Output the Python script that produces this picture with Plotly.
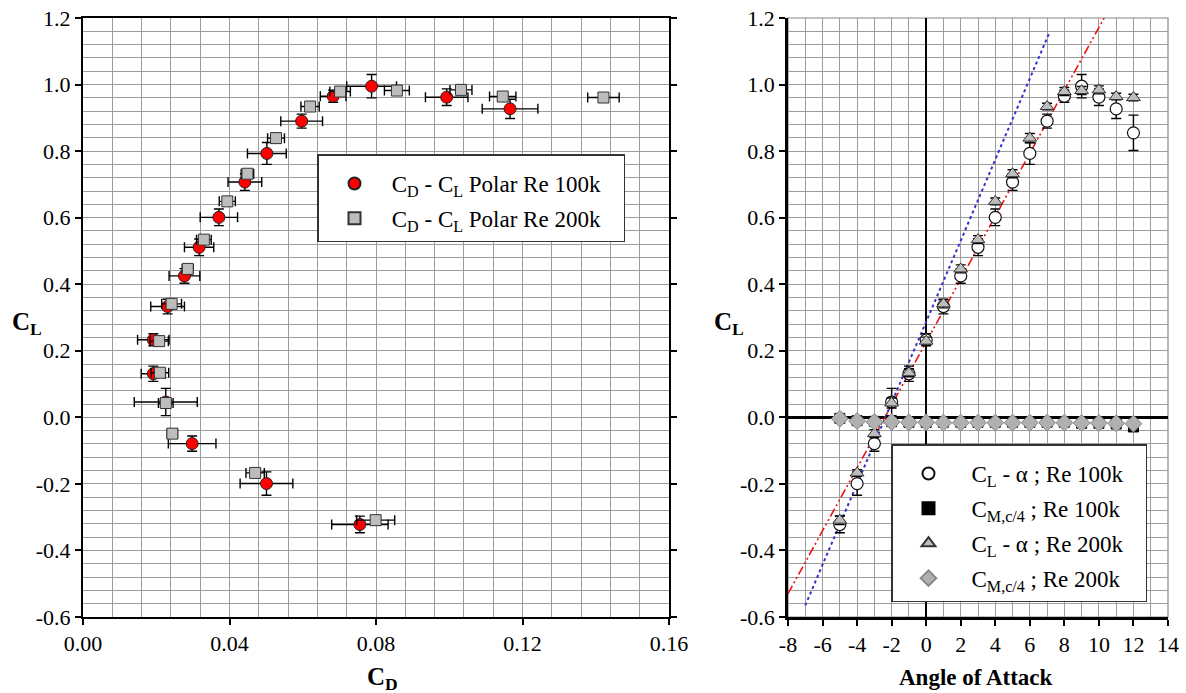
import plotly.graph_objects as go

# ---------------- data ----------------
alpha = [-5, -4, -3, -2, -1, 0, 1, 2, 3, 4, 5, 6, 7, 8, 9, 10, 11, 12]

cl_100 = [-0.322, -0.199, -0.079, 0.046, 0.131, 0.233, 0.333, 0.425, 0.511, 0.601,
          0.707, 0.793, 0.890, 0.965, 0.995, 0.962, 0.927, 0.855]
cl_100_err = [0.025, 0.035, 0.023, 0.041, 0.023, 0.018, 0.022, 0.022, 0.025, 0.025,
              0.025, 0.033, 0.021, 0.018, 0.035, 0.025, 0.029, 0.053]
# drag polar Re 100k (alpha -5 .. 11)
cd_100 = [0.0756, 0.0501, 0.0298, 0.0226, 0.0192, 0.0192, 0.0231, 0.0277, 0.0317, 0.0371,
          0.0442, 0.0502, 0.0597, 0.0683, 0.0788, 0.0993, 0.1166]
cd_100_err = [0.0077, 0.0072, 0.0065, 0.0086, 0.0033, 0.0043, 0.0046, 0.0042, 0.0040, 0.0051,
              0.0046, 0.0053, 0.0057, 0.0035, 0.0068, 0.0058, 0.0076]

cl_200 = [-0.309, -0.167, -0.049, 0.043, 0.134, 0.229, 0.341, 0.446, 0.534, 0.649,
          0.732, 0.839, 0.934, 0.979, 0.982, 0.984, 0.964, 0.961]
cl_200_err = [0.013, 0.010, 0.012, 0.015, 0.012, 0.012, 0.012, 0.012, 0.012, 0.010,
              0.012, 0.014, 0.010, 0.012, 0.012, 0.012, 0.010, 0.010]
cd_200 = [0.0799, 0.0470, 0.0244, 0.0226, 0.0210, 0.0208, 0.0242, 0.0286, 0.0330, 0.0394,
          0.0449, 0.0527, 0.0620, 0.0702, 0.0857, 0.1032, 0.1146, 0.1421]
cd_200_err = [0.0052, 0.0025, 0.0014, 0.0020, 0.0024, 0.0025, 0.0027, 0.0015, 0.0020, 0.0022,
              0.0017, 0.0023, 0.0025, 0.0028, 0.0034, 0.0030, 0.0036, 0.0043]

cm_100 = [-0.003, -0.010, -0.012, -0.013, -0.015, -0.015, -0.015, -0.015, -0.015, -0.015,
          -0.015, -0.015, -0.015, -0.015, -0.018, -0.018, -0.020, -0.029]
cm_200 = [-0.004, -0.011, -0.014, -0.014, -0.015, -0.015, -0.016, -0.016, -0.016, -0.016,
          -0.016, -0.016, -0.016, -0.016, -0.017, -0.017, -0.018, -0.019]

# linear fit lines (endpoints)
fit_red_alpha = [-8.0, 10.3]
fit_red_cl = [-0.53, 1.20]
fit_blue_alpha = [-7.0, 7.1]
fit_blue_cl = [-0.565, 1.152]

# tick labels
cd_ticks = [0.0, 0.04, 0.08, 0.12, 0.16]
cd_ticktext = ["0.00", "0.04", "0.08", "0.12", "0.16"]
cl_ticks = [-0.6, -0.4, -0.2, 0.0, 0.2, 0.4, 0.6, 0.8, 1.0, 1.2]
cl_ticktext = ["-0.6", "-0.4", "-0.2", "0.0", "0.2", "0.4", "0.6", "0.8", "1.0", "1.2"]
aoa_ticks = [-8, -6, -4, -2, 0, 2, 4, 6, 8, 10, 12, 14]
aoa_ticktext = ["-8", "-6", "-4", "-2", "0", "2", "4", "6", "8", "10", "12", "14"]

FONT = "Liberation Serif"
GRID = "#9d9d9d"
NB = "\u00a0"

fig = go.Figure()

def err(arr):
    return dict(type="data", array=arr, color="black", thickness=1.4, width=5)

# ---------------- left: drag polar ----------------
fig.add_trace(go.Scatter(
    x=cd_100, y=cl_100[:len(cd_100)], mode="markers",
    name=NB * 3 + "C<sub>D</sub> - C<sub>L</sub> Polar Re 100k" + NB * 3,
    legendgroup="p1",
    marker=dict(symbol="circle", size=12, color="#ff0000", line=dict(color="#222", width=1)),
    error_x=err(cd_100_err), error_y=err(cl_100_err[:len(cd_100)]),
    xaxis="x", yaxis="y", legend="legend"))
fig.add_trace(go.Scatter(
    x=cd_200, y=cl_200, mode="markers",
    name=NB * 3 + "C<sub>D</sub> - C<sub>L</sub> Polar Re 200k" + NB * 3,
    legendgroup="p2",
    marker=dict(symbol="square", size=11, color="#bdbdbd", line=dict(color="#333", width=1)),
    error_x=err(cd_200_err), error_y=err(cl_200_err),
    xaxis="x", yaxis="y", legend="legend"))

# ---------------- right: lift curve ----------------
fig.add_trace(go.Scatter(
    x=fit_red_alpha, y=fit_red_cl, mode="lines", showlegend=False, hoverinfo="skip",
    line=dict(color="#ee1111", width=1.6, dash="9px,3px,2px,3px,2px,3px"),
    xaxis="x2", yaxis="y2"))
fig.add_trace(go.Scatter(
    x=fit_blue_alpha, y=fit_blue_cl, mode="lines", showlegend=False, hoverinfo="skip",
    line=dict(color="#3333cc", width=2, dash="dot"),
    xaxis="x2", yaxis="y2"))

fig.add_trace(go.Scatter(
    x=alpha, y=cl_100, mode="markers",
    name=NB * 4 + "C<sub>L</sub> - α ; Re 100k" + NB * 3, legendgroup="a",
    marker=dict(symbol="circle", size=12, color="white", line=dict(color="#111", width=1.2)),
    error_y=err(cl_100_err),
    xaxis="x2", yaxis="y2", legend="legend2"))
fig.add_trace(go.Scatter(
    x=alpha, y=cm_100, mode="markers",
    name=NB * 4 + "C<sub>M,c/4</sub> ; Re 100k" + NB * 3, legendgroup="b",
    marker=dict(symbol="square", size=10, color="black", line=dict(color="black", width=1)),
    xaxis="x2", yaxis="y2", legend="legend2"))
fig.add_trace(go.Scatter(
    x=alpha, y=cl_200, mode="markers",
    name=NB * 4 + "C<sub>L</sub> - α ; Re 200k" + NB * 3, legendgroup="c",
    marker=dict(symbol="triangle-up", size=12, color="#bdbdbd", line=dict(color="#333", width=1)),
    error_y=err(cl_200_err),
    xaxis="x2", yaxis="y2", legend="legend2"))
fig.add_trace(go.Scatter(
    x=alpha, y=cm_200, mode="markers",
    name=NB * 4 + "C<sub>M,c/4</sub> ; Re 200k" + NB * 3, legendgroup="d",
    marker=dict(symbol="diamond", size=13, color="#b0b0b0", line=dict(color="#888", width=1)),
    xaxis="x2", yaxis="y2", legend="legend2"))

W, H = 1186, 693
ydom = [1 - 617 / H, 1 - 18 / H]
x1dom = [83 / W, 669 / W]
x2dom = [788 / W, 1168 / W]

TICKFONT = dict(family=FONT, size=22, color="black")


def axis(domain, rng, tickvals, ticktext, minor_step, anchor, lw, **extra):
    d = dict(domain=domain, range=rng, tickmode="array", tickvals=tickvals, ticktext=ticktext,
             tickfont=dict(TICKFONT), showgrid=True, gridcolor=GRID, gridwidth=1.2,
             ticks="outside", ticklen=6, tickcolor="black", tickwidth=1.5,
             showline=True, linecolor="black", linewidth=lw,
             minor=dict(dtick=minor_step, tick0=0, showgrid=True, gridcolor=GRID, gridwidth=1.2),
             anchor=anchor, automargin=False, zeroline=False)
    d.update(extra)
    return d


def label(text, px, py, size):
    return dict(text=text, xref="paper", yref="paper", x=px / W, y=1 - py / H,
                xanchor="center", yanchor="middle", showarrow=False,
                font=dict(family=FONT, size=size, color="black"))


fig.update_layout(
    width=W, height=H,
    margin=dict(l=0, r=0, t=0, b=0),
    paper_bgcolor="white", plot_bgcolor="white",
    font=dict(family=FONT, size=22, color="black"),
    xaxis=axis(x1dom, [0, 0.16], cd_ticks, cd_ticktext, 0.008, "y", 2, mirror=True),
    yaxis=axis(ydom, [-0.6, 1.2], cl_ticks, cl_ticktext, 0.04, "x", 2, mirror="ticks"),
    xaxis2=axis(x2dom, [-8, 14], aoa_ticks, aoa_ticktext, 1, "y2", 2.5,
                zeroline=True, zerolinecolor="black", zerolinewidth=2.2),
    yaxis2=axis(ydom, [-0.6, 1.2], cl_ticks, cl_ticktext, 0.04, "x2", 2.5,
                zeroline=True, zerolinecolor="black", zerolinewidth=2.5),
    legend=dict(x=317 / W, y=1 - 154 / H, xanchor="left", yanchor="top",
                bgcolor="white", bordercolor="#333", borderwidth=1.5,
                font=dict(family=FONT, size=23, color="black"),
                title=dict(text=NB, font=dict(size=5)),
                itemsizing="constant", indentation=16,
                tracegroupgap=2, traceorder="grouped"),
    legend2=dict(x=891 / W, y=1 - 444 / H, xanchor="left", yanchor="top",
                 bgcolor="white", bordercolor="#333", borderwidth=1.5,
                 font=dict(family=FONT, size=23, color="black"),
                 title=dict(text=NB, font=dict(size=5)),
                 itemsizing="constant", indentation=16,
                 tracegroupgap=2, traceorder="grouped"),
    shapes=[dict(type="rect", xref="x2 domain", yref="y2 domain", x0=0, x1=1, y0=0, y1=1,
                 line=dict(color="#888", width=1.2), layer="below")],
    annotations=[
        label("<b>C<sub>L</sub></b>", 27, 324, 25),
        label("<b>C<sub>D</sub></b>", 382, 678, 25),
        label("<b>C<sub>L</sub></b>", 729, 324, 25),
        label("<b>Angle of Attack</b>", 976, 677, 23),
    ],
)

fig.write_html("out.html", config={"displayModeBar": False},
               post_script="document.body.style.margin='0';")
